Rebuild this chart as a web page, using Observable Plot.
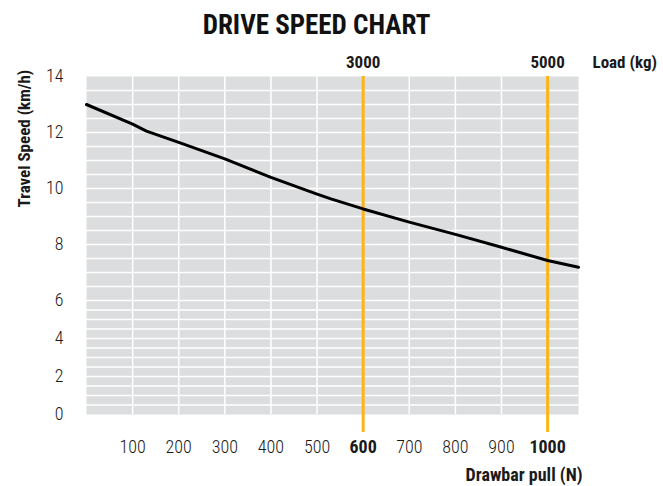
<!DOCTYPE html>
<html><head><meta charset="utf-8">
<script src="https://cdn.jsdelivr.net/npm/d3@7"></script>
<script src="https://cdn.jsdelivr.net/npm/@observablehq/plot@0.6"></script>
<style>
body{margin:0;background:#fff;font-family:"Roboto Condensed",Roboto,sans-serif;font-stretch:condensed;}
#wrap{position:relative;width:663px;height:486px;overflow:hidden;}
#title{position:absolute;top:9px;left:0;width:633px;text-align:center;font-weight:bold;font-size:27px;color:#111;}
#chart{position:absolute;top:50px;left:0;}
svg text{font-stretch:condensed;}
</style></head><body>
<div id="wrap"><div id="title">DRIVE SPEED CHART</div><div id="chart"></div></div>
<script>
// Drawbar pull (N) vs travel speed (km/h)
const pull  = [0, 100, 130, 200, 300, 400, 500, 530, 600, 700, 800, 900, 1000, 1067];
const speed = [13.0, 12.3, 12.05, 11.65, 11.06, 10.4, 9.8, 9.63, 9.27, 8.8, 8.36, 7.9, 7.43, 7.19];

const pullTicks = [100, 200, 300, 400, 500, 600, 700, 800, 900, 1000];
const markedPulls = [600, 1000];
const loads = [3000, 5000];
const speedTicks = [0, 2, 4, 6, 8, 10, 12, 14];
const speedGrid = [0.5, 1, 1.5, 2, 2.5, 3, 3.5, 4, 4.5, 5, 5.5, 6, 6.5, 7, 7.5, 8, 8.5, 9, 9.5, 10, 10.5, 11, 11.5, 12, 12.5, 13, 13.5];

const data = pull.map((p, i) => ({pull: p, speed: speed[i]}));
const FONT = '"Roboto Condensed",Roboto,sans-serif';
const ORANGE = "#FDB515";

const chart = Plot.plot({
  width: 663,
  height: 436,
  marginTop: 26,
  marginBottom: 72,
  marginLeft: 86,
  marginRight: 85,
  style: {fontFamily: FONT, color: "#1a1a1a", background: "transparent"},
  x: {type: "linear", domain: [0, 1067]},
  y: {type: "linear", domain: [0, 6, 14], range: [364, 250, 26]},
  marks: [
    Plot.frame({fill: "#dcddde", stroke: "none"}),
    Plot.gridY(speedGrid, {stroke: "#ffffff", strokeOpacity: 1, strokeWidth: 1.5}),
    Plot.gridX(pullTicks.filter(d => !markedPulls.includes(d)), {stroke: "#ffffff", strokeOpacity: 1, strokeWidth: 1.5}),
    Plot.ruleX(markedPulls, {stroke: ORANGE, strokeWidth: 3, insetBottom: -18}),
    Plot.line(data, {x: "pull", y: "speed", stroke: "#000", strokeWidth: 3}),
    Plot.axisY(speedTicks, {anchor: "left", tickSize: 0, tickPadding: 23, fontSize: 18, fontWeight: 300, label: null}),
    Plot.axisX(pullTicks.filter(d => !markedPulls.includes(d)), {anchor: "bottom", tickSize: 0, tickPadding: 26, fontSize: 18, fontWeight: 300, label: null, tickFormat: d => String(d)}),
    Plot.axisX(markedPulls, {anchor: "bottom", tickSize: 0, tickPadding: 26, fontSize: 18, fontWeight: "bold", label: null, tickFormat: d => String(d)}),
    Plot.text(markedPulls, {x: d => d, text: (d, i) => String(loads[i]), frameAnchor: "top", lineAnchor: "middle", dy: -14, fontSize: 17, fontWeight: "bold"}),
    Plot.text(["Load (kg)"], {text: d => d, frameAnchor: "top-right", lineAnchor: "middle", textAnchor: "start", dx: 14, dy: -14, fontSize: 17, fontWeight: "bold"}),
    Plot.text(["Drawbar pull (N)"], {text: d => d, frameAnchor: "bottom-right", lineAnchor: "middle", textAnchor: "end", dx: 4, dy: 61, fontSize: 18, fontWeight: "bold"}),
    Plot.text(["Travel Speed (km/h)"], {text: d => d, frameAnchor: "top-left", lineAnchor: "middle", rotate: -90, textAnchor: "middle", dx: -62, dy: 62, fontSize: 17, fontWeight: "bold"})
  ]
});
document.getElementById("chart").appendChild(chart);
</script>
</body></html>
